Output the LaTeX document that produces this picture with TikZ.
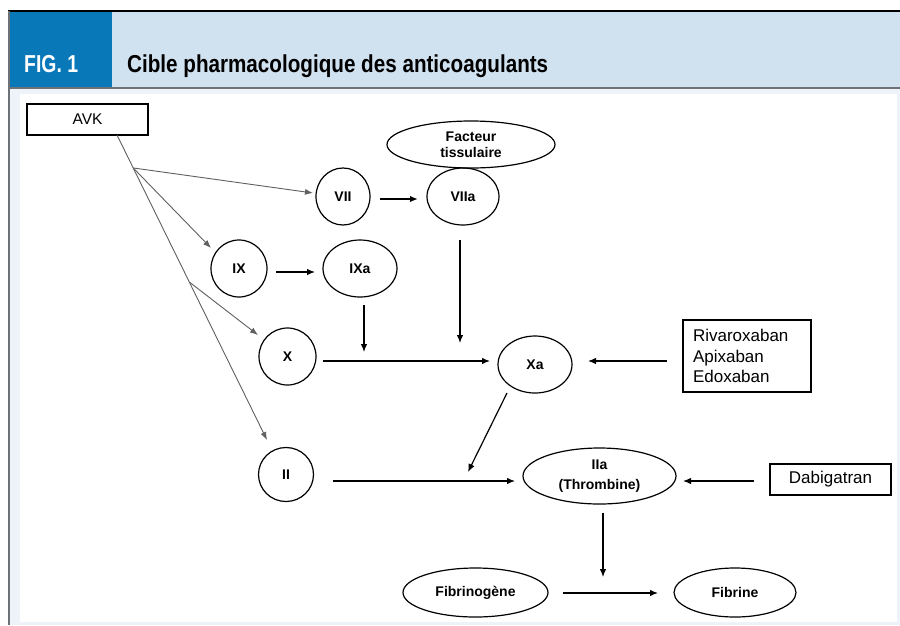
\documentclass[tikz,border=0pt]{standalone}
\usepackage{fontspec}
\setmainfont{Liberation Sans}
\usetikzlibrary{arrows.meta,shapes.geometric,calc}
\definecolor{hdrblue}{RGB}{8,120,185}
\definecolor{hdrlight}{RGB}{208,225,239}
\definecolor{panelbg}{RGB}{237,243,249}
\definecolor{hdrline}{RGB}{110,114,118}
\begin{document}
\begin{tikzpicture}[x=1pt,y=-1pt,
  oval/.style={ellipse, draw, line width=1.2pt, inner sep=0pt, outer sep=0pt,
    font=\fontsize{14}{16}\selectfont\bfseries, align=center},
  boxnode/.style={rectangle, draw, line width=1.2pt, inner sep=0pt, outer sep=0pt,
    font=\fontsize{17}{20.5}\selectfont},
  arr/.style={draw, line width=1.2pt, -{Latex[length=8pt,width=6.5pt]}},
  avkarr/.style={draw=gray!75!black, line width=0.9pt, -{Latex[length=8pt,width=6pt]}}]
\useasboundingbox (0,0) rectangle (900,625);
\fill[white] (0,0) rectangle (900,625);
% panel and header
\fill[panelbg] (8,88) rectangle (900,625);
\fill[white] (20,94) rectangle (897,622);
\fill[hdrlight] (8,12) rectangle (900,87);
\fill[hdrblue] (8,12) rectangle (112,87);
\draw[line width=2pt] (8,11) -- (900,11);
\draw[hdrline,line width=2pt] (8,87.5) -- (900,87.5);
\draw[hdrline,line width=1.5pt] (8.75,11) -- (8.75,625);
\node[anchor=base west, text=white, inner sep=0pt] (fig) at (24,72)
  {\resizebox{54pt}{\height}{\fontsize{24.5}{24.5}\selectfont\bfseries FIG. 1}};
\node[anchor=base west, inner sep=0pt] (title) at (127,72)
  {\resizebox{421pt}{\height}{\fontsize{24.5}{24.5}\selectfont\bfseries Cible pharmacologique des anticoagulants}};
% nodes
\node[boxnode, minimum width=121pt, minimum height=31pt, font=\fontsize{15.5}{18}\selectfont] (avk) at (87.5,119.5) {\raisebox{-1.5pt}{AVK}};
\node[oval, minimum width=168pt, minimum height=47pt] (ft) at (471,144.5) {Facteur\\tissulaire};
\node[oval, minimum width=54pt, minimum height=57pt] (vii) at (343,196.5) {VII};
\node[oval, minimum width=72pt, minimum height=57pt] (viia) at (463,196.5) {VIIa};
\node[oval, minimum width=56pt, minimum height=57pt] (ix) at (239,268.5) {IX};
\node[oval, minimum width=74pt, minimum height=57pt] (ixa) at (360,268.5) {IXa};
\node[oval, minimum width=57pt, minimum height=57pt] (x) at (287.5,356.5) {X};
\node[oval, minimum width=74pt, minimum height=57pt] (xa) at (535,364.5) {Xa};
\node[boxnode, minimum width=128pt, minimum height=72pt, text width=108pt, align=left] (riva) at (747,356) {Rivaroxaban\\Apixaban\\Edoxaban};
\node[oval, minimum width=55pt, minimum height=54pt] (ii) at (286,474.5) {II};
\node[oval, minimum width=153pt, minimum height=56pt, font=\fontsize{14}{19.5}\selectfont\bfseries] (iia) at (599.5,476) {IIa\\(Thrombine)};
\node[boxnode, minimum width=121pt, minimum height=31pt] (dabi) at (830.5,479.5) {\raisebox{-1.5pt}{Dabigatran}};
\node[oval, minimum width=145pt, minimum height=49pt] (fgn) at (475.5,592.5) {Fibrinogène};
\node[oval, minimum width=122pt, minimum height=49pt] (fib) at (735,592.5) {Fibrine};
% free ends
\coordinate (ixaend) at (364,352);
\coordinate (viiaend) at (460,343);
\coordinate (xaend) at (468,472);
\coordinate (iiaend) at (603,577);
% AVK connectors
\coordinate (avks) at ([shift={(29.5,0)}]avk.south);
\coordinate (iitip) at ([shift={(-19,-7.5)}]ii.north);
\coordinate (b1) at ($(avks)!0.108!(iitip)$);
\coordinate (b2) at ($(avks)!0.482!(iitip)$);
\draw[avkarr] (avks) -- (iitip);
\draw[avkarr] (b1) -- ([shift={(-3,-3.5)}]vii.west);
\draw[avkarr] (b1) -- ([shift={(0,-20.5)}]ix.west);
\draw[avkarr] (b2) -- ([shift={(-1,-21.5)}]x.west);
% cascade connectors
\draw[arr, line width=1.8pt] ([shift={(10,2.5)}]vii.east) -- ([shift={(-9,2.5)}]viia.west);
\draw[arr] ([shift={(9,3.5)}]ix.east) -- ([shift={(-8,3.5)}]ixa.west);
\draw[arr] ([shift={(4,8)}]ixa.south) -- (ixaend);
\draw[arr] ([shift={(-3,15)}]viia.south) -- (viiaend);
\draw[arr] ([shift={(7,4.5)}]x.east) -- ([shift={(-8,-3.5)}]xa.west);
\draw[arr] ([shift={(-16,5)}]riva.west) -- ([shift={(16,-3.5)}]xa.east);
\draw[arr] ([shift={(-28,0)}]xa.south) -- (xaend);
\draw[arr] ([shift={(19,6.5)}]ii.east) -- ([shift={(-8,5)}]iia.west);
\draw[arr] ([shift={(-16,1.5)}]dabi.west) -- ([shift={(7,5)}]iia.east);
\draw[arr] ([shift={(3.5,9)}]iia.south) -- (iiaend);
\draw[arr] ([shift={(15,0.5)}]fgn.east) -- ([shift={(-16,0.5)}]fib.west);
\end{tikzpicture}
\end{document}
